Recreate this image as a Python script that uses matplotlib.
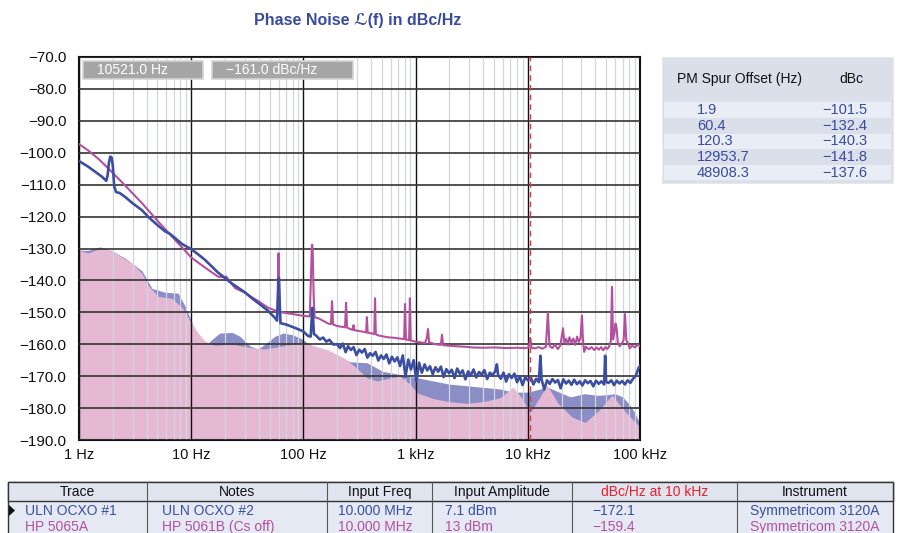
"""
Phase noise plot: ULN OCXO vs HP 5065A
"""

# LIBRARY

import matplotlib.pyplot as plt
from matplotlib.patches import Rectangle, Polygon

plt.rcParams['font.family'] = ['Liberation Sans', 'DejaVu Sans']

# DATA

# trace 1: ULN OCXO #1 (blue)
blue_f = [1, 1.2, 1.4, 1.6, 1.75, 1.8, 1.85, 1.9, 1.95, 2.0, 2.06, 2.14, 2.3, 2.57, 3.0, 3.64,
          4.2, 5.06, 5.84, 6.4, 7.17, 8.28, 10, 11.5, 13.3, 17.3, 23.1, 30, 34.8, 41, 48.3, 55,
          58.2, 59.3, 60.4, 61.3, 62.5, 70, 79, 90, 100, 110, 116, 118.5, 120.3, 122, 124, 130,
          140, 150, 160, 170, 185,
          200, 212, 225, 238, 250, 265, 280, 297, 315, 333, 352, 372, 393, 415, 440, 465, 492,
          520, 550, 582, 615, 650, 688, 727, 769, 813, 860, 909, 961, 1016, 1075, 1137, 1202,
          1271, 1344, 1421, 1503, 1589, 1680, 1777, 1879, 1987, 2101, 2222, 2349, 2484, 2627,
          2778, 2937, 3106, 3284, 3473, 3672, 3883, 4106, 4342, 4591, 4855, 5134, 5300, 5429,
          5741, 6070, 6419, 6787, 7177, 7590, 8025, 8486, 8974, 9489, 10034, 10610, 11220,
          11864, 12545, 12950, 13265, 14027, 14832, 15684, 16585, 17537, 18545, 19610, 20736,
          21927, 23186, 24518, 25926, 27415, 28990, 30655, 32415, 34277, 36245, 38327, 40528,
          42855, 45317, 47919, 48900, 49900, 52500, 55500, 58700, 62000, 65600, 69400, 73400,
          77600, 82000, 86700, 91700, 96900, 100000]
blue_db = [-102.6, -104.3, -106.0, -107.5, -108.8, -107.0, -103.0, -101.2, -101.5, -104.0,
           -110.5, -112.3, -112.6, -113.8, -115.8, -118.0, -120.3, -122.8, -124.6, -125.3,
           -126.7, -128.6, -130.2, -131.8, -133.6, -137.5, -141.0, -143.7, -145.6, -147.5,
           -149.5, -151.5, -152.6, -146.0, -139.2, -146.0, -153.4, -153.8, -154.5, -155.3,
           -156.0, -157.4, -157.6, -152.0, -148.6, -152.0, -156.8, -157.3, -158.5, -157.9,
           -159.2, -158.6, -160.1,
           -160.0, -161.2, -159.8, -162.5, -160.6, -161.8, -160.9, -163.4, -161.7, -162.6,
           -161.5, -164.2, -162.8, -163.6, -162.4, -165.1, -163.5, -164.6, -163.2, -166.0,
           -163.9, -165.4, -164.1, -166.8, -163.5, -170.2, -164.8, -167.9, -165.0, -171.6,
           -165.8, -168.9, -166.3, -168.2, -166.9, -169.4, -167.2, -168.6, -167.0, -170.3,
           -167.8, -169.1, -168.0, -170.6, -167.6, -169.3, -168.2, -171.0, -168.5, -169.8,
           -167.9, -170.4, -168.7, -169.5, -168.1, -170.9, -168.9, -169.7, -168.4, -166.3,
           -169.6, -170.8, -168.9, -171.7, -169.4, -170.6, -169.2, -171.9, -170.0, -172.8,
           -170.4, -171.3, -170.2, -172.6, -170.8, -171.9, -163.6, -171.0, -174.2, -171.3,
           -172.4, -170.9, -172.0, -171.2, -173.8, -171.0, -172.3, -171.4, -172.7, -171.1,
           -172.5, -171.6, -172.9, -171.3, -172.2, -171.5, -173.2, -171.4, -172.4, -171.6,
           -172.6, -163.6, -171.8, -172.1, -171.3, -172.8, -171.4, -172.3, -171.5, -172.6,
           -171.3, -172.1, -170.8, -169.9, -167.5, -166.8]

# trace 2: HP 5065A (pink)
pink_f = [1, 1.2, 1.5, 1.81, 2.2, 2.7, 3.64, 5.06, 7.17, 10, 13.3, 17.3, 19.0, 20.5, 22, 24.6,
          30, 34.8, 41, 48, 55, 58.5, 59.5, 60, 60.6, 61.5, 64, 79, 100, 114, 116.5, 119, 120,
          121, 123.5, 126, 135, 166, 176, 180, 184, 190, 200, 235, 240, 245, 252, 275, 280, 285,
          333, 362, 368, 374, 408, 428, 435, 442, 460, 560, 655, 790, 805, 820, 875, 890, 905,
          1000, 1213, 1260, 1290, 1320, 1500, 1680, 1718, 1760, 2244, 2800, 3185, 4000, 5000,
          6500, 8000, 9500, 10200, 10500, 10800, 11500, 12500, 13500, 14500, 15100, 15600,
          16500, 17500, 18500, 19500, 20600, 21200, 22000, 22800, 23500, 24500, 25500, 26500,
          27500, 28500, 29500, 30400, 31000, 31800, 33000, 35000, 37000, 39000, 41000, 43000,
          45000, 47000, 49000, 51000, 53000, 55000, 56300, 57500, 59000, 60500, 62000, 63500,
          66000, 69000, 71500, 73500, 75500, 78000, 81000, 85000, 90000, 95000, 100000]
pink_db = [-97.3, -99.2, -102.0, -104.8, -107.8, -111.0, -115.8, -121.5, -127.3, -132.8,
           -136.0, -138.8, -139.0, -138.8, -140.2, -142.4, -143.8, -145.3, -146.8, -148.5,
           -149.3, -149.6, -138.0, -131.5, -138.0, -149.8, -150.0, -150.5, -151.1, -151.3,
           -140.0, -129.0, -128.8, -131.0, -145.0, -151.6, -151.8, -153.5, -153.7, -146.5,
           -153.8, -154.0, -154.3, -154.7, -147.0, -154.8, -155.0, -155.5, -154.0, -155.6,
           -156.0, -156.3, -151.5, -156.4, -156.6, -156.8, -145.6, -156.9, -157.2, -157.8,
           -158.0, -158.4, -147.4, -158.5, -158.7, -145.6, -158.8, -159.2, -159.6, -158.0,
           -155.2, -159.4, -160.0, -160.2, -157.0, -160.3, -160.6, -160.8, -161.0, -161.1,
           -161.0, -161.2, -161.1, -161.2, -161.0, -158.0, -161.1, -161.3, -160.9, -161.4,
           -160.8, -150.0, -160.5, -161.2, -160.1, -161.5, -160.4, -155.0, -159.6, -158.3,
           -160.1, -157.8, -159.5, -158.2, -160.2, -157.6, -159.3, -158.0, -151.0, -158.5,
           -162.4, -160.8, -161.6, -160.9, -161.8, -161.0, -161.7, -160.9, -161.9, -160.9,
           -161.5, -160.8, -159.0, -142.0, -158.5, -156.5, -153.5, -155.2, -159.8, -160.6,
           -159.7, -158.6, -150.5, -158.8, -159.6, -161.3, -160.4, -161.0, -160.2, -160.6]

# upper edges of the shaded floors
blue_floor_f = [1, 1.2, 1.54, 1.97, 2.57, 3.64, 4.47, 5.84, 7.63, 8.81, 10.2, 11.5, 13.3, 15.3,
                18.0, 23.1, 27.2, 33.3, 39.3, 45.4, 55.6, 66, 79, 93, 114, 140, 184, 260, 369,
                511, 726, 1040, 1429, 2000, 2872, 3960, 5650, 7380, 10040, 12900, 15140, 19000,
                24000, 32000, 42000, 51000, 60000, 70000, 80000, 90000, 100000]
blue_floor_db = [-130.5, -130.6, -129.5, -130.8, -133.0, -137.0, -142.5, -143.7, -144.0,
                 -148.0, -153.4, -158.5, -160.5, -158.5, -156.5, -156.3, -157.5, -160.5,
                 -161.5, -160.0, -157.5, -156.5, -157.0, -158.0, -160.0, -162.0, -163.0,
                 -165.5, -165.8, -168.5, -169.5, -170.5, -171.5, -172.5, -173.0, -173.5,
                 -174.0, -175.0, -175.0, -174.0, -173.5, -175.0, -176.5, -175.5, -176.0,
                 -175.8, -175.5, -176.5, -178.7, -181.5, -185.0]

pink_floor_f = [1, 1.2, 1.54, 1.81, 2.23, 2.97, 3.64, 4.12, 5.06, 6.74, 8.28, 9.75, 11.5, 13.3,
                16.2, 23.1, 33.3, 45.4, 66, 93, 119, 166, 235, 288, 369, 453, 600, 726, 891,
                1040, 1429, 2000, 2872, 3960, 5650, 7380, 8900, 10470, 12080, 14830, 18580,
                24760, 32370, 42270, 56270, 73460, 100000]
pink_floor_db = [-130.5, -131.4, -130.0, -130.3, -132.0, -134.6, -137.8, -141.5, -145.0,
                 -145.6, -148.5, -152.5, -156.5, -159.0, -160.3, -160.0, -161.0, -161.5,
                 -160.5, -159.5, -160.3, -161.8, -164.5, -167.0, -170.5, -171.5, -170.5,
                 -170.0, -172.5, -175.3, -177.0, -178.0, -178.5, -178.0, -176.8, -173.4,
                 -177.0, -181.5, -178.0, -172.8, -178.5, -182.8, -184.5, -181.0, -176.0,
                 -181.0, -186.0]

yticks = [-70, -80, -90, -100, -110, -120, -130, -140, -150, -160, -170, -180, -190]
xticks = [1, 10, 100, 1000, 10000, 100000]
xtick_labels = ['1 Hz', '10 Hz', '100 Hz', '1 kHz', '10 kHz', '100 kHz']

cursor_f = 10521.0
cursor_db = -161.0

spur_offsets = ['1.9', '60.4', '120.3', '12953.7', '48908.3']
spur_dbc = ['\u2212101.5', '\u2212132.4', '\u2212140.3', '\u2212141.8', '\u2212137.6']

table_header = ['Trace', 'Notes', 'Input Freq', 'Input Amplitude', 'dBc/Hz at 10 kHz', 'Instrument']
table_rows = [
    ['ULN OCXO #1', 'ULN OCXO #2', '10.000 MHz', '7.1 dBm', '\u2212172.1', 'Symmetricom 3120A'],
    ['HP 5065A', 'HP 5061B (Cs off)', '10.000 MHz', '13 dBm', '\u2212159.4', 'Symmetricom 3120A'],
]

BLUE = '#3b4ea1'
PINK = '#b4519e'
BLUE_FILL = '#8b8dc6'
PINK_FILL = '#e5b8d4'
TITLE_BLUE = '#3a4b9f'
NARROW = ['Liberation Sans Narrow', 'Liberation Sans']

W, H = 898, 533


def fx(x):
    return x / W


def fy(y):
    return 1 - y / H


# FIGURE

fig = plt.figure(figsize=(W / 100, H / 100), dpi=100)
ax = fig.add_axes([fx(79), fy(440), (640 - 79) / W, (440 - 57) / H])
ax.set_xscale('log')
ax.set_xlim(1, 1e5)
ax.set_ylim(-190, -70)

ax.fill_between(blue_floor_f, blue_floor_db, -190, color=BLUE_FILL, lw=0, zorder=1)
ax.fill_between(pink_floor_f, pink_floor_db, -190, color=PINK_FILL, lw=0, zorder=1.2)

ax.set_axisbelow(False)
ax.grid(True, which='minor', axis='x', color='#d2d6df', lw=0.9)
ax.grid(True, which='major', axis='x', color='#111111', lw=1.0)
ax.grid(True, which='major', axis='y', color='#333333', lw=1.2)

ax.plot(pink_f, pink_db, color=PINK, lw=1.5, zorder=3)
ax.plot(blue_f, blue_db, color=BLUE, lw=1.9, zorder=3.1)
ax.axvline(cursor_f, color='#e8333a', lw=1.0, ls=(0, (4, 3)), zorder=4)

ax.set_yticks(yticks)
ax.set_yticklabels(['\u2212%.1f' % abs(v) for v in yticks])
ax.set_xticks(xticks)
ax.set_xticklabels(xtick_labels)
ax.tick_params(which='both', length=0)
ax.tick_params(axis='y', pad=9, labelsize=11, labelcolor='#111111')
ax.tick_params(axis='x', pad=6, labelsize=10.5, labelcolor='#111111')
for s in ax.spines.values():
    s.set_color('#111111')
    s.set_linewidth(1.5)

fig.text(fx(358), fy(20), 'Phase Noise \u2112(f) in dBc/Hz', ha='center', va='center',
         fontsize=11.5, fontweight='bold', color=TITLE_BLUE)

# cursor readouts
for x0, x1, txt in [(83, 203, '%.1f Hz' % cursor_f), (212, 353, '\u2212%.1f dBc/Hz' % abs(cursor_db))]:
    fig.patches.append(Rectangle((fx(x0), fy(79)), (x1 - x0) / W, 18 / H, transform=fig.transFigure,
                                 facecolor='#a6a6a6', edgecolor='#d4d4d4', lw=1.2, zorder=5))
    fig.text(fx(x0 + 14), fy(70), txt, ha='left', va='center', fontsize=10, color='white', zorder=6)

# spur table
fig.patches.append(Rectangle((fx(662), fy(183)), (893 - 662) / W, (183 - 57) / H,
                             transform=fig.transFigure, facecolor='#dadfe9', edgecolor='#e8e8e8',
                             lw=0.8, zorder=1))
fig.text(fx(677), fy(79), 'PM Spur Offset (Hz)', ha='left', va='center', fontsize=10, color='#111111')
fig.text(fx(851), fy(79), 'dBc', ha='center', va='center', fontsize=10, color='#111111')
for i, (off, dbc) in enumerate(zip(spur_offsets, spur_dbc)):
    yc = 110 + i * 15.7
    if i % 2 == 0:
        fig.patches.append(Rectangle((fx(664), fy(yc + 7.5)), (891 - 664) / W, 15 / H,
                                     transform=fig.transFigure, facecolor='#e9edf6', lw=0, zorder=1.5))
    fig.text(fx(697), fy(yc), off, ha='left', va='center', fontsize=10.5, color=TITLE_BLUE)
    fig.text(fx(867), fy(yc), dbc, ha='right', va='center', fontsize=10.5, color=TITLE_BLUE)

# trace table
col_edges = [8, 147, 327, 432, 572, 737, 893]
text_x = [25, 162, 338, 445, 592, 750]
fig.patches.append(Rectangle((fx(8), fy(540)), (893 - 8) / W, (540 - 482) / H,
                             transform=fig.transFigure, facecolor='#e4e9f4', edgecolor='#333333',
                             lw=1.0, zorder=1))
fig.patches.append(Rectangle((fx(8), fy(501)), (893 - 8) / W, 19 / H,
                             transform=fig.transFigure, facecolor='#e0e4ee', edgecolor='#333333',
                             lw=1.0, zorder=1.2))
for xe in col_edges[1:-1]:
    fig.lines.append(plt.Line2D([fx(xe), fx(xe)], [fy(482), fy(540)], transform=fig.transFigure,
                                color='#555555', lw=0.8, zorder=2))
for j, hdr in enumerate(table_header):
    xc = (col_edges[j] + col_edges[j + 1]) / 2
    fig.text(fx(xc), fy(492), hdr, ha='center', va='center', fontsize=10, family=NARROW,
             color='#e8202a' if j == 4 else '#111111', zorder=3)
for r, (row, col) in enumerate(zip(table_rows, [BLUE, PINK])):
    yc = 511 + r * 16
    for j, cell in enumerate(row):
        fig.text(fx(text_x[j]), fy(yc), cell, ha='left', va='center', fontsize=10,
                 family=NARROW, color=col, zorder=3)
fig.patches.append(Polygon([(fx(9), fy(505)), (fx(9), fy(516)), (fx(15), fy(510.5))], closed=True,
                           transform=fig.transFigure, facecolor='#111111', lw=0, zorder=3))

fig.savefig('out.png', dpi=100)
